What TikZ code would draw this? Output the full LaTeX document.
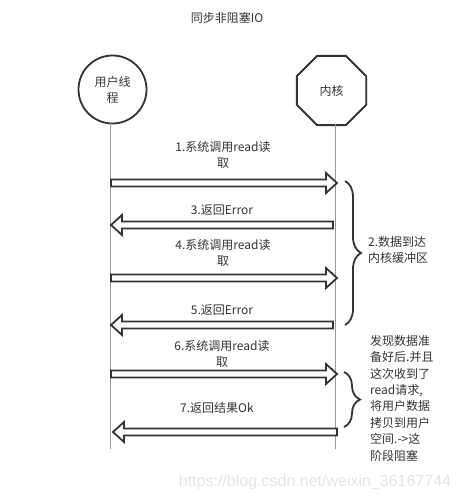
\documentclass[tikz,border=0pt]{standalone}
\usepackage{fontspec}
\setmainfont{Noto Sans CJK SC}
\newfontfamily\wmfont{Liberation Sans}
\usetikzlibrary{shapes.geometric,decorations.pathreplacing,calc}
\definecolor{ink}{HTML}{333333}
\definecolor{txt}{HTML}{333333}
\definecolor{life}{HTML}{999999}
\definecolor{wm}{HTML}{E4E4E4}
\tikzset{
  lbl/.style={text=txt,font=\fontsize{12}{16}\selectfont,align=center,inner sep=0pt},
  side/.style={text=txt,font=\fontsize{12}{16.4}\selectfont,align=left,inner sep=0pt,anchor=north west},
  actor/.style={draw=ink,line width=1.8pt,text=txt,font=\fontsize{12}{16}\selectfont,align=center,inner sep=0pt},
  lifeline/.style={draw=life,line width=0.8pt},
  fat/.style={draw=ink,line width=1.8pt,fill=white,line join=miter},
  bracestyle/.style={draw=ink,line width=1.8pt,decorate,decoration={brace,amplitude=16pt,aspect=0.5}},
}
\newcommand\fatright[3]{% from x1 to x2 at y
  \draw[fat] (#1,#3-3.5) -- (#2-11,#3-3.5) -- (#2-11,#3-10) -- (#2,#3) -- (#2-11,#3+10) -- (#2-11,#3+3.5) -- (#1,#3+3.5) -- cycle;}
\newcommand\fatleft[3]{% tip at x1, tail at x2, at y
  \draw[fat] (#2,#3-3.5) -- (#1+11,#3-3.5) -- (#1+11,#3-10) -- (#1,#3) -- (#1+11,#3+10) -- (#1+11,#3+3.5) -- (#2,#3+3.5) -- cycle;}
\begin{document}
\begin{tikzpicture}[x=1pt,y=-1pt]
\useasboundingbox (0,0) rectangle (460,500);
\node[lbl] (title) at (227,18) {同步非阻塞IO};
\node[actor,circle,minimum size=68pt] (user) at (112.5,89.5) {用户线\\程};
\node[actor,regular polygon,regular polygon sides=8,minimum size=75pt] (kernel) at (331.5,90.5) {内核};
\coordinate (utop) at (110.7,123);
\coordinate (ubot) at (110.7,449);
\coordinate (ktop) at (335.7,124);
\coordinate (kbot) at (335.7,449);
\draw[lifeline] (utop) -- (ubot);
\draw[lifeline] (ktop) -- (kbot);
% messages
\node[lbl] (m1) at (223,155) {1.系统调用read读\\取};
\fatright{111}{337}{183}
\node[lbl] (m3) at (222,210) {3.返回Error};
\fatleft{111}{333}{225}
\node[lbl] (m4) at (223,253) {4.系统调用read读\\取};
\fatright{111}{337}{278}
\node[lbl] (m5) at (222,310) {5.返回Error};
\fatleft{111}{333}{325}
\node[lbl] (m6) at (222,354) {6.系统调用read读\\取};
\fatright{111}{337}{374}
\node[lbl] (m7) at (217,408) {7.返回结果Ok};
\fatleft{113}{337}{432}
% braces
\coordinate (b1a) at (345,181);
\coordinate (b1b) at (345,325);
\draw[bracestyle] (b1a) -- (b1b);
\node[side] (n2) at (368,236) {2.数据到达\\内核缓冲区};
\coordinate (b2a) at (344,372);
\coordinate (b2b) at (344,427);
\draw[bracestyle] (b2a) -- (b2b);
\node[side] (n8) at (370,335) {发现数据准\\备好后.并且\\这次收到了\\read请求,\\将用户数据\\拷贝到用户\\空间.->这\\阶段阻塞};
\node[text=wm,font=\wmfont\fontsize{16}{18}\selectfont,inner sep=0pt] (wmk) at (315,482) {https://blog.csdn.net/weixin\_36167744};
\end{tikzpicture}
\end{document}
